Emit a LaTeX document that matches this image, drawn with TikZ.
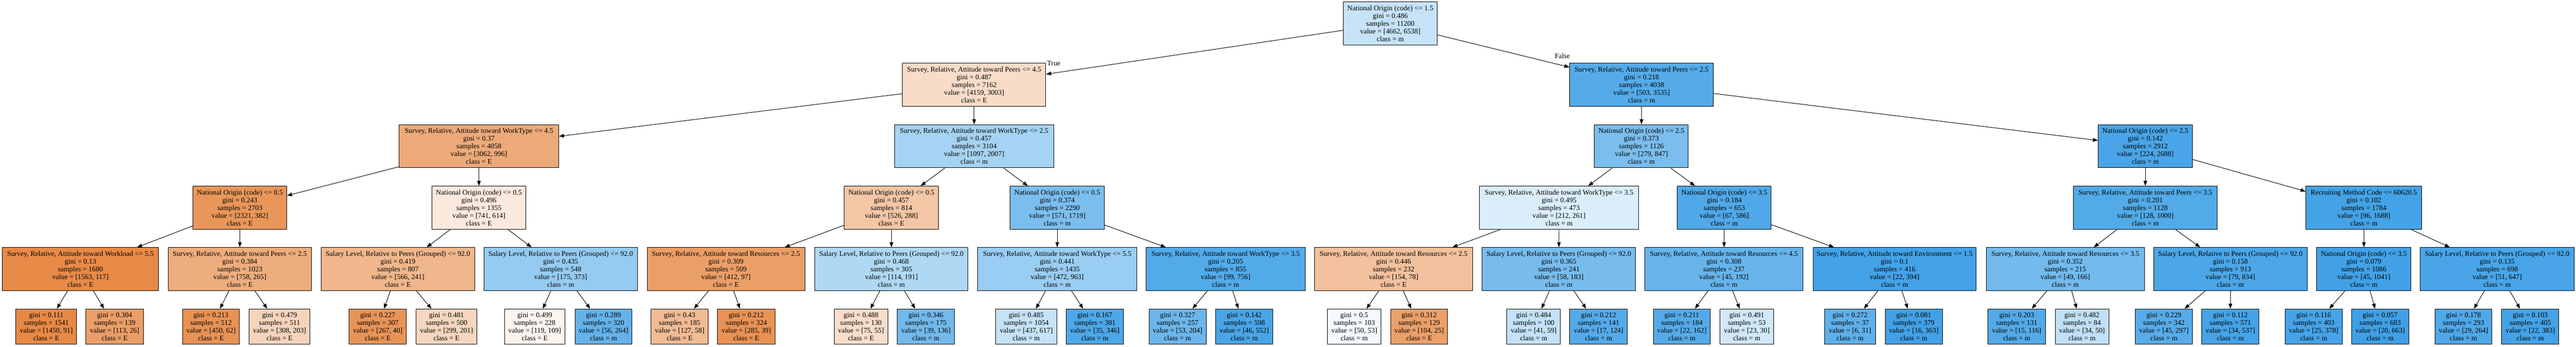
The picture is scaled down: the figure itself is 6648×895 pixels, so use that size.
\documentclass[tikz,border=0pt]{standalone}
\usepackage{fontspec}
\setmainfont{Liberation Serif}
\usetikzlibrary{arrows.meta}
\definecolor{cE}{RGB}{229,129,57}
\definecolor{cM}{RGB}{57,157,229}
\newcommand{\treefont}{\fontsize{18.5pt}{20pt}\selectfont}
\tikzset{
  tnode/.style={draw=black, line width=1.3pt, rectangle, inner sep=0pt, align=center, font=\treefont, minimum height=111.5pt},
  leafbox/.style={tnode, minimum height=91pt},
  edgeline/.style={draw=black, line width=1.3pt, -{Triangle[length=13pt,width=9.5pt]}},
  lbl/.style={font=\treefont, inner sep=0pt}
}
\newcommand{\inn}[9]{\node[tnode, fill=#2, minimum width=#4pt] (#1) at (#3) {#5\\gini = #6\\samples = #7\\value = [#8]\\class = #9};}
\newcommand{\lf}[8]{\node[leafbox, fill=#2, minimum width=#4pt] (#1) at (#3,843.5) {gini = #5\\samples = #6\\value = [#7]\\class = #8};}
\begin{document}
\begin{tikzpicture}[x=1pt,y=-1pt]
\fill[white] (0,0) rectangle (6648,895);
\path[use as bounding box] (0,0) rectangle (6648,895);
% level 0
\inn{root}{cM!28.7!white}{3588,60.5}{242}{National Origin (code) <= 1.5}{0.486}{11200}{4662, 6538}{m}
% level 1
\inn{n1a}{cE!27.8!white}{2514,219}{370}{Survey, Relative, Attitude toward Peers <= 4.5}{0.487}{7162}{4159, 3003}{E}
\inn{n1b}{cM!85.8!white}{4236.5,219}{371}{Survey, Relative, Attitude toward Peers <= 2.5}{0.218}{4038}{503, 3535}{m}
% level 2
\inn{n2a}{cE!67.5!white}{1236,377.5}{412}{Survey, Relative, Attitude toward WorkType <= 4.5}{0.37}{4058}{3062, 996}{E}
\inn{n2b}{cM!45.3!white}{2514,377.5}{410}{Survey, Relative, Attitude toward WorkType <= 2.5}{0.457}{3104}{1097, 2007}{m}
\inn{n2c}{cM!67.1!white}{4236,377.5}{242}{National Origin (code) <= 2.5}{0.373}{1126}{279, 847}{m}
\inn{n2d}{cM!91.7!white}{5536.5,377.5}{243}{National Origin (code) <= 2.5}{0.142}{2912}{224, 2688}{m}
% level 3
\inn{n3a}{cE!83.5!white}{619,536.5}{242}{National Origin (code) <= 0.5}{0.243}{2703}{2321, 382}{E}
\inn{n3b}{cE!17.1!white}{1236,536.5}{242}{National Origin (code) <= 0.5}{0.496}{1355}{741, 614}{E}
\inn{n3c}{cE!45.2!white}{2300.5,536.5}{243}{National Origin (code) <= 0.5}{0.457}{814}{526, 288}{E}
\inn{n3d}{cM!66.8!white}{2728.5,536.5}{243}{National Origin (code) <= 0.5}{0.374}{2290}{571, 1719}{m}
\inn{n3e}{cM!18.8!white}{4023.5,536.5}{411}{Survey, Relative, Attitude toward WorkType <= 3.5}{0.495}{473}{212, 261}{m}
\inn{n3f}{cM!88.6!white}{4450,536.5}{242}{National Origin (code) <= 3.5}{0.184}{653}{67, 586}{m}
\inn{n3g}{cM!87.2!white}{5536.5,536.5}{371}{Survey, Relative, Attitude toward Peers <= 3.5}{0.201}{1128}{128, 1000}{m}
\inn{n3h}{cM!94.3!white}{6100.5,536.5}{299}{Recruiting Method Code <= 60620.5}{0.102}{1784}{96, 1688}{m}
% level 4
\inn{n4a}{cE!92.5!white}{207.5,695}{403}{Survey, Relative, Attitude toward Workload <= 5.5}{0.13}{1680}{1563, 117}{E}
\inn{n4b}{cE!65.0!white}{619,695}{370}{Survey, Relative, Attitude toward Peers <= 2.5}{0.384}{1023}{758, 265}{E}
\inn{n4c}{cE!57.4!white}{1027,695}{396}{Salary Level, Relative to Peers (Grouped) <= 92.0}{0.419}{807}{566, 241}{E}
\inn{n4d}{cM!53.1!white}{1447,695}{396}{Salary Level, Relative to Peers (Grouped) <= 92.0}{0.435}{548}{175, 373}{m}
\inn{n4e}{cE!76.5!white}{1873.5,695}{407}{Survey, Relative, Attitude toward Resources <= 2.5}{0.309}{509}{412, 97}{E}
\inn{n4f}{cM!40.3!white}{2300.5,695}{395}{Salary Level, Relative to Peers (Grouped) <= 92.0}{0.468}{305}{114, 191}{m}
\inn{n4g}{cM!51.0!white}{2728.5,695}{411}{Survey, Relative, Attitude toward WorkType <= 5.5}{0.441}{1435}{472, 963}{m}
\inn{n4h}{cM!86.9!white}{3163,695}{410}{Survey, Relative, Attitude toward WorkType <= 3.5}{0.205}{855}{99, 756}{m}
\inn{n4i}{cE!49.4!white}{3596.5,695}{409}{Survey, Relative, Attitude toward Resources <= 2.5}{0.446}{232}{154, 78}{E}
\inn{n4j}{cM!68.3!white}{4023,695}{396}{Salary Level, Relative to Peers (Grouped) <= 92.0}{0.365}{241}{58, 183}{m}
\inn{n4k}{cM!76.6!white}{4449,695}{408}{Survey, Relative, Attitude toward Resources <= 4.5}{0.308}{237}{45, 192}{m}
\inn{n4l}{cM!94.4!white}{4889.5,695}{421}{Survey, Relative, Attitude toward Environment <= 1.5}{0.1}{416}{22, 394}{m}
\inn{n4m}{cM!70.5!white}{5330,695}{408}{Survey, Relative, Attitude toward Resources <= 3.5}{0.352}{215}{49, 166}{m}
\inn{n4n}{cM!90.5!white}{5756,695}{396}{Salary Level, Relative to Peers (Grouped) <= 92.0}{0.158}{913}{79, 834}{m}
\inn{n4o}{cM!95.7!white}{6100.5,695}{243}{National Origin (code) <= 3.5}{0.079}{1086}{45, 1041}{m}
\inn{n4p}{cM!92.1!white}{6444.5,695}{397}{Salary Level, Relative to Peers (Grouped) <= 92.0}{0.135}{698}{51, 647}{m}
% leaves
\lf{l1}{cE!93.7!white}{119.5}{157}{0.111}{1541}{1450, 91}{E}
\lf{l2}{cE!77.0!white}{296}{148}{0.304}{139}{113, 26}{E}
\lf{l3}{cE!86.2!white}{544.5}{147}{0.213}{512}{450, 62}{E}
\lf{l4}{cE!34.1!white}{721.5}{157}{0.479}{511}{308, 203}{E}
\lf{l5}{cE!85.0!white}{975}{148}{0.227}{307}{267, 40}{E}
\lf{l6}{cE!32.8!white}{1152.5}{157}{0.481}{500}{299, 201}{E}
\lf{l7}{cE!8.4!white}{1380}{156}{0.499}{228}{119, 109}{E}
\lf{l8}{cM!78.8!white}{1557.5}{147}{0.289}{320}{56, 264}{m}
\lf{l9}{cE!54.3!white}{1754}{148}{0.43}{185}{127, 58}{E}
\lf{l10}{cE!86.3!white}{1926}{148}{0.212}{324}{285, 39}{E}
\lf{l11}{cE!26.7!white}{2222}{138}{0.488}{130}{75, 55}{E}
\lf{l12}{cM!71.3!white}{2389.5}{147}{0.346}{175}{39, 136}{m}
\lf{l13}{cM!29.2!white}{2648.5}{157}{0.485}{1054}{437, 617}{m}
\lf{l14}{cM!89.9!white}{2825.5}{147}{0.167}{381}{35, 346}{m}
\lf{l15}{cM!74.0!white}{3039}{148}{0.327}{257}{53, 204}{m}
\lf{l16}{cM!91.7!white}{3211}{148}{0.142}{598}{46, 552}{m}
\lf{l17}{cM!5.7!white}{3495}{138}{0.5}{103}{50, 53}{m}
\lf{l18}{cE!76.0!white}{3662.5}{147}{0.312}{129}{104, 25}{E}
\lf{l19}{cM!30.5!white}{3958}{138}{0.484}{100}{41, 59}{m}
\lf{l20}{cM!86.3!white}{4125.5}{149}{0.212}{141}{17, 124}{m}
\lf{l21}{cM!86.4!white}{4340.5}{147}{0.211}{184}{22, 162}{m}
\lf{l22}{cM!23.3!white}{4508}{138}{0.491}{53}{23, 30}{m}
\lf{l23}{cM!80.6!white}{4774.5}{131}{0.272}{37}{6, 31}{m}
\lf{l24}{cM!95.6!white}{4939}{148}{0.081}{379}{16, 363}{m}
\lf{l25}{cM!87.1!white}{5204.5}{149}{0.203}{131}{15, 116}{m}
\lf{l26}{cM!32.0!white}{5373}{138}{0.482}{84}{34, 50}{m}
\lf{l27}{cM!84.8!white}{5584.5}{147}{0.229}{342}{45, 297}{m}
\lf{l28}{cM!93.7!white}{5756}{148}{0.112}{571}{34, 537}{m}
\lf{l29}{cM!93.4!white}{5971}{148}{0.116}{403}{25, 378}{m}
\lf{l30}{cM!97.0!white}{6142.5}{147}{0.057}{683}{20, 663}{m}
\lf{l31}{cM!89.0!white}{6357.5}{147}{0.178}{293}{29, 264}{m}
\lf{l32}{cM!94.3!white}{6530}{148}{0.103}{405}{22, 383}{m}
% edge labels
\node[lbl, anchor=west] (tlbl) at (2702,164) {True};
\node[lbl] (flbl) at (4032,144) {False};
% edges
\draw[edgeline] (root) -- (n1a);
\draw[edgeline] (root) -- (n1b);
\draw[edgeline] (n1a) -- (n2a);
\draw[edgeline] (n1a) -- (n2b);
\draw[edgeline] (n1b) -- (n2c);
\draw[edgeline] (n1b) -- (n2d);
\draw[edgeline] (n2a) -- (n3a);
\draw[edgeline] (n2a) -- (n3b);
\draw[edgeline] (n2b) -- (n3c);
\draw[edgeline] (n2b) -- (n3d);
\draw[edgeline] (n2c) -- (n3e);
\draw[edgeline] (n2c) -- (n3f);
\draw[edgeline] (n2d) -- (n3g);
\draw[edgeline] (n2d) -- (n3h);
\draw[edgeline] (n3a) -- (n4a);
\draw[edgeline] (n3a) -- (n4b);
\draw[edgeline] (n3b) -- (n4c);
\draw[edgeline] (n3b) -- (n4d);
\draw[edgeline] (n3c) -- (n4e);
\draw[edgeline] (n3c) -- (n4f);
\draw[edgeline] (n3d) -- (n4g);
\draw[edgeline] (n3d) -- (n4h);
\draw[edgeline] (n3e) -- (n4i);
\draw[edgeline] (n3e) -- (n4j);
\draw[edgeline] (n3f) -- (n4k);
\draw[edgeline] (n3f) -- (n4l);
\draw[edgeline] (n3g) -- (n4m);
\draw[edgeline] (n3g) -- (n4n);
\draw[edgeline] (n3h) -- (n4o);
\draw[edgeline] (n3h) -- (n4p);
\draw[edgeline] (n4a) -- (l1);
\draw[edgeline] (n4a) -- (l2);
\draw[edgeline] (n4b) -- (l3);
\draw[edgeline] (n4b) -- (l4);
\draw[edgeline] (n4c) -- (l5);
\draw[edgeline] (n4c) -- (l6);
\draw[edgeline] (n4d) -- (l7);
\draw[edgeline] (n4d) -- (l8);
\draw[edgeline] (n4e) -- (l9);
\draw[edgeline] (n4e) -- (l10);
\draw[edgeline] (n4f) -- (l11);
\draw[edgeline] (n4f) -- (l12);
\draw[edgeline] (n4g) -- (l13);
\draw[edgeline] (n4g) -- (l14);
\draw[edgeline] (n4h) -- (l15);
\draw[edgeline] (n4h) -- (l16);
\draw[edgeline] (n4i) -- (l17);
\draw[edgeline] (n4i) -- (l18);
\draw[edgeline] (n4j) -- (l19);
\draw[edgeline] (n4j) -- (l20);
\draw[edgeline] (n4k) -- (l21);
\draw[edgeline] (n4k) -- (l22);
\draw[edgeline] (n4l) -- (l23);
\draw[edgeline] (n4l) -- (l24);
\draw[edgeline] (n4m) -- (l25);
\draw[edgeline] (n4m) -- (l26);
\draw[edgeline] (n4n) -- (l27);
\draw[edgeline] (n4n) -- (l28);
\draw[edgeline] (n4o) -- (l29);
\draw[edgeline] (n4o) -- (l30);
\draw[edgeline] (n4p) -- (l31);
\draw[edgeline] (n4p) -- (l32);
\end{tikzpicture}
\end{document}
